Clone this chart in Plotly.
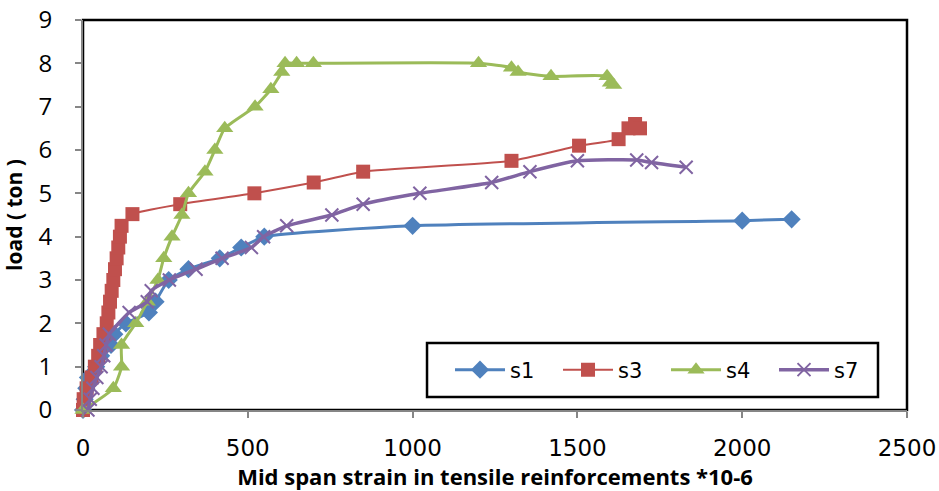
import plotly.graph_objects as go

# ---- data ----
s1_x = [0, 5, 10, 15, 40, 55, 85, 95, 130, 200, 220, 260, 320, 415, 480, 550, 1000, 2000, 2150]
s1_y = [0, 0.25, 0.5, 0.75, 1.0, 1.25, 1.5, 1.75, 2.0, 2.25, 2.5, 3.0, 3.25, 3.5, 3.75, 4.0, 4.25, 4.37, 4.4]

s3_x = [0, 2, 11, 26, 36, 46, 52, 62, 72, 77, 82, 87, 92, 97, 102, 107, 112, 117, 150, 295, 520, 700, 850, 1300, 1505, 1625, 1655, 1675, 1690]
s3_y = [0, 0.25, 0.5, 0.75, 1.0, 1.25, 1.5, 1.75, 2.0, 2.25, 2.5, 2.75, 3.0, 3.25, 3.5, 3.75, 4.0, 4.25, 4.52, 4.75, 5.0, 5.25, 5.5, 5.75, 6.1, 6.25, 6.5, 6.6, 6.5]

s4_x = [0, 92, 117, 117, 160, 195, 227, 245, 270, 300, 320, 370, 400, 430, 522, 570, 603, 613, 648, 699, 1200, 1300, 1320, 1420, 1590, 1600, 1610]
s4_y = [0, 0.5, 1.0, 1.5, 2.0, 2.5, 3.0, 3.5, 4.0, 4.5, 5.0, 5.5, 6.0, 6.5, 7.0, 7.4, 7.8, 8.0, 8.0, 8.0, 8.0, 7.9, 7.8, 7.7, 7.7, 7.55, 7.5]

s7_x = [15, 22, 30, 42, 55, 63, 70, 80, 140, 195, 207, 262, 343, 422, 511, 548, 618, 755, 850, 1022, 1240, 1356, 1500, 1680, 1725, 1830]
s7_y = [0, 0.25, 0.5, 0.75, 1.0, 1.25, 1.5, 1.75, 2.25, 2.5, 2.75, 3.0, 3.25, 3.5, 3.75, 4.0, 4.25, 4.5, 4.75, 5.0, 5.25, 5.5, 5.75, 5.77, 5.71, 5.6]

x_ticks = [0, 500, 1000, 1500, 2000, 2500]
y_ticks = [0, 1, 2, 3, 4, 5, 6, 7, 8, 9]

series = [
    ("s1", s1_x, s1_y, "#4F81BD", "diamond", 14, 3),
    ("s3", s3_x, s3_y, "#C0504D", "square", 14, 2),
    ("s4", s4_x, s4_y, "#9BBB59", "triangle-up", 15, 3),
    ("s7", s7_x, s7_y, "#8064A2", "x-thin", 13, 3.5),
]

fig = go.Figure()
for name, xs, ys, col, sym, sz, lw in series:
    marker = dict(symbol=sym, size=sz, color=col)
    if sym == "x-thin":
        marker["line"] = dict(color=col, width=2)
    fig.add_trace(go.Scatter(
        x=xs, y=ys, name=name, mode="lines+markers",
        line=dict(color=col, width=lw, shape="spline", smoothing=0.5),
        marker=marker, cliponaxis=False,
    ))

# plot area in pixels: x 83..907, y 20..410
fig.update_layout(
    width=939, height=491,
    margin=dict(l=83, r=32, t=20, b=81, autoexpand=False),
    plot_bgcolor="white", paper_bgcolor="white",
    showlegend=True,
    legend=dict(
        orientation="h", x=0.4454, y=0.1026, xanchor="left", yanchor="middle",
        borderwidth=0, bgcolor="rgba(0,0,0,0)",
        font=dict(family="DejaVu Sans", size=21, color="black"),
        entrywidth=43, itemwidth=50,
    ),
    shapes=[
        dict(type="rect", xref="paper", yref="paper", x0=0, y0=0, x1=1, y1=1,
             line=dict(color="black", width=2.5), layer="below"),
        dict(type="rect", xref="paper", yref="paper", x0=0.4175, y0=0.0333, x1=0.9648, y1=0.1718,
             line=dict(color="black", width=2.5), fillcolor="white", layer="below"),
    ],
    xaxis=dict(
        range=[0, 2500], tickvals=x_ticks, showgrid=False, zeroline=False,
        showline=True, linecolor="#868686", linewidth=2, automargin=False,
        ticks="outside", ticklen=6, tickcolor="#868686", tickwidth=1.5,
        tickfont=dict(family="DejaVu Sans", size=23, color="black"),
        ticklabelstandoff=10,
        title=dict(text="<b>Mid span strain in tensile reinforcements *10-6</b>",
                   font=dict(family="Open Sans", size=22, color="black"), standoff=6),
    ),
    yaxis=dict(
        range=[0, 9], tickvals=y_ticks, showgrid=False, zeroline=False,
        showline=True, linecolor="#868686", linewidth=2, automargin=False,
        ticks="outside", ticklen=6, tickcolor="#868686", tickwidth=1.5,
        tickfont=dict(family="Open Sans", size=24, color="black"),
        ticklabelstandoff=18,
        title=dict(text="<b>load ( ton )</b>",
                   font=dict(family="Open Sans", size=21, color="black"), standoff=14),
    ),
)

fig.write_html("out.html")
